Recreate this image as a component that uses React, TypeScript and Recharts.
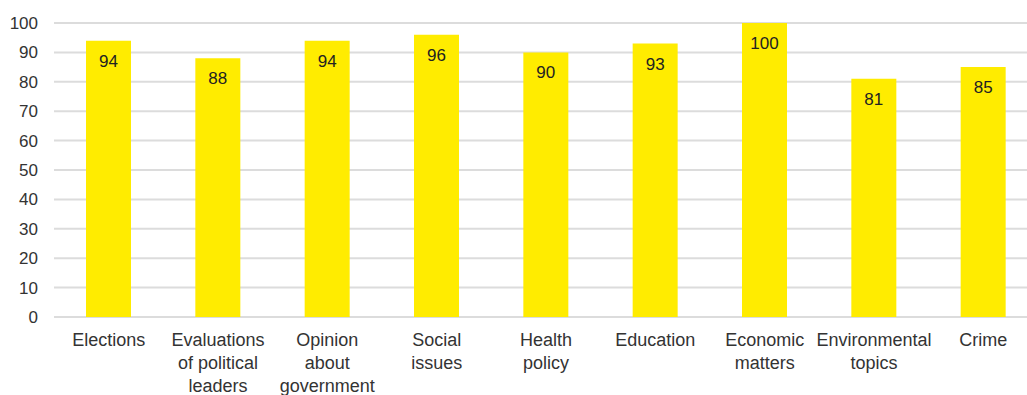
import React from 'react';
import { BarChart, Bar, XAxis, YAxis, CartesianGrid, LabelList } from 'recharts';

// category labels, line breaks as in the source chart
const categories = [
  'Elections',
  'Evaluations\nof political\nleaders',
  'Opinion\nabout\ngovernment',
  'Social\nissues',
  'Health\npolicy',
  'Education',
  'Economic\nmatters',
  'Environmental\ntopics',
  'Crime',
];

const values = [94, 88, 94, 96, 90, 93, 100, 81, 85];

const yTicks = [0, 10, 20, 30, 40, 50, 60, 70, 80, 90, 100];

const data = categories.map((name, i) => ({ name, value: values[i] }));

const FONT = '"Liberation Sans", Arial, sans-serif';

const CategoryTick = (props: any) => {
  const { x, y, payload } = props;
  const lines = String(payload.value).split('\n');
  return (
    <text x={x} y={y} textAnchor="middle" fill="#333" fontSize={18} fontFamily={FONT}>
      {lines.map((line, i) => (
        <tspan key={i} x={x} dy={i === 0 ? 29 : 23}>
          {line}
        </tspan>
      ))}
    </text>
  );
};

const App = () => {
  return (
    <div style={{ position: 'absolute', left: 0, top: 0, width: 1027, height: 395, overflow: 'hidden', background: '#fff' }}>
      <BarChart
        width={1040}
        height={395}
        data={data}
        margin={{ top: 23, right: 2, left: 0, bottom: 0 }}
      >
        <CartesianGrid vertical={false} stroke="#dcdcdc" strokeWidth={2} />
        <XAxis
          dataKey="name"
          axisLine={false}
          tickLine={false}
          tickSize={0}
          tickMargin={0}
          height={78}
          interval={0}
          tick={<CategoryTick />}
        />
        <YAxis
          domain={[0, 100]}
          ticks={yTicks}
          width={54}
          axisLine={false}
          tickLine={false}
          tickMargin={10}
          tick={{ fill: '#333', fontSize: 17, fontFamily: FONT }}
        />
        <Bar dataKey="value" fill="#FFEC00" barSize={45} isAnimationActive={false}>
          <LabelList
            dataKey="value"
            position="insideTop"
            offset={14}
            fill="#222"
            fontSize={17}
            fontFamily={FONT}
          />
        </Bar>
      </BarChart>
    </div>
  );
};

export default App;
